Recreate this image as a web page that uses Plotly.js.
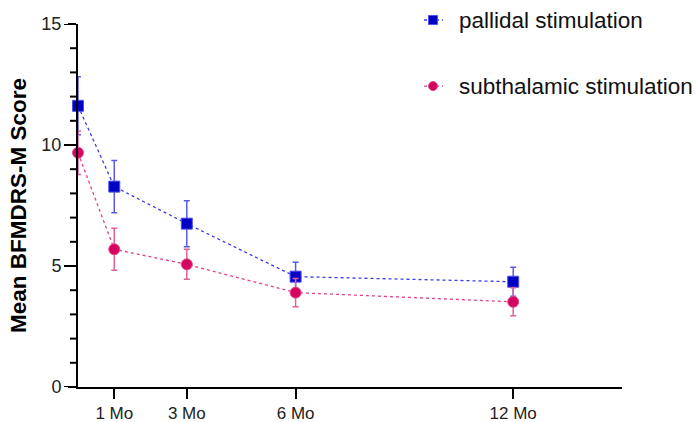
<!DOCTYPE html>
<html><head><meta charset="utf-8">
<script src="https://cdn.plot.ly/plotly-3.0.1.min.js"></script>
<style>html,body{margin:0;padding:0;background:#fff}#c{width:698px;height:422px}</style>
</head><body><div id="c"></div>
<script>
const months = [0, 1, 3, 6, 12];
const tickVals = [1, 3, 6, 12];
const tickText = ["1 Mo", "3 Mo", "6 Mo", "12 Mo"];
const seriesNames = ["pallidal stimulation", "subthalamic stimulation"];
const pallidalMean = [11.62, 8.28, 6.75, 4.56, 4.35];
const pallidalErr = [1.2, 1.08, 0.95, 0.6, 0.6];
const subthalMean = [9.68, 5.69, 5.07, 3.9, 3.52];
const subthalErr = [0.9, 0.87, 0.62, 0.58, 0.58];
const yMajor = [0, 5, 10, 15];
const yAll = [0,1,2,3,4,5,6,7,8,9,10,11,12,13,14,15];

const lineColors = ["#3a3ae8", "#e0408a"];
const markColors = ["#0000c4", "#d4045f"];
const markEdge = ["#5050f0", "#e04a8a"];

const traces = [
  {x: months, y: pallidalMean, name: seriesNames[0], type: "scatter", mode: "lines+markers",
   line: {color: lineColors[0], width: 1.3, dash: "dot"},
   marker: {symbol: "square", size: 11, color: markColors[0], line: {color: markEdge[0], width: 1}},
   error_y: {type: "data", array: pallidalErr, visible: true, color: "#5a5ae6", thickness: 1.5, width: 3},
   cliponaxis: false},
  {x: months, y: subthalMean, name: seriesNames[1], type: "scatter", mode: "lines+markers",
   line: {color: lineColors[1], width: 1.3, dash: "dot"},
   marker: {symbol: "circle", size: 11, color: markColors[1], line: {color: markEdge[1], width: 1}},
   error_y: {type: "data", array: subthalErr, visible: true, color: "#e0609a", thickness: 1.5, width: 3},
   cliponaxis: false}
];

const plotW = 544;
const legendY = [1.011, 0.829];
const keyX = 0.6526;
const annotations = seriesNames.map((n, i) => ({
  text: n, xref: "paper", yref: "paper", x: 0.6967, y: legendY[i], xanchor: "left", yanchor: "middle",
  showarrow: false, font: {size: 22.5, color: "#111"}
}));
const shapes = [];
seriesNames.forEach((n, i) => {
  shapes.push({type: "line", xref: "paper", yref: "paper", xsizemode: "pixel", xanchor: keyX,
    x0: -9, x1: 10, y0: legendY[i], y1: legendY[i], line: {color: lineColors[i], width: 1.3, dash: "dot"}});
  shapes.push({type: i === 0 ? "rect" : "circle", xref: "paper", yref: "paper",
    xsizemode: "pixel", ysizemode: "pixel", xanchor: keyX, yanchor: legendY[i],
    x0: -4.5, x1: 4.5, y0: -4.5, y1: 4.5, fillcolor: markColors[i], line: {color: markEdge[i], width: 1}});
});
// y-axis tick marks: long at labelled values, short at every unit
yAll.forEach(v => {
  const len = yMajor.includes(v) ? 14 : 8;
  shapes.push({type: "line", xref: "paper", yref: "y", layer: "above",
    x0: -len / plotW, x1: 0, y0: v, y1: v, line: {color: "#000000", width: 2}});
});

const layout = {
  width: 698, height: 422,
  margin: {l: 78, r: 76, t: 24, b: 35},
  paper_bgcolor: "#fff", plot_bgcolor: "#fff",
  font: {family: "Liberation Sans, Arial, sans-serif", color: "#111"},
  showlegend: false,
  annotations: annotations,
  shapes: shapes,
  xaxis: {range: [0, 15], showgrid: false, zeroline: false, showline: true, linecolor: "#000", linewidth: 2,
          tickmode: "array", tickvals: tickVals, ticktext: tickText, ticks: "outside", ticklen: 10,
          tickwidth: 2, tickcolor: "#000", tickfont: {size: 17, color: "#222"}},
  yaxis: {range: [0, 15], showgrid: false, zeroline: false, showline: true, linecolor: "#000", linewidth: 2,
          tickmode: "array", tickvals: yMajor, ticks: "outside", ticklen: 8, tickwidth: 2, tickcolor: "#000",
          ticklabelstandoff: 3,
          tickfont: {size: 18, color: "#222"},
          title: {text: "<b>Mean BFMDRS-M Score</b>", font: {size: 22.5, color: "#000"}, standoff: 8}}
};
Plotly.newPlot("c", traces, layout, {displayModeBar: false, staticPlot: true});
</script></body></html>
